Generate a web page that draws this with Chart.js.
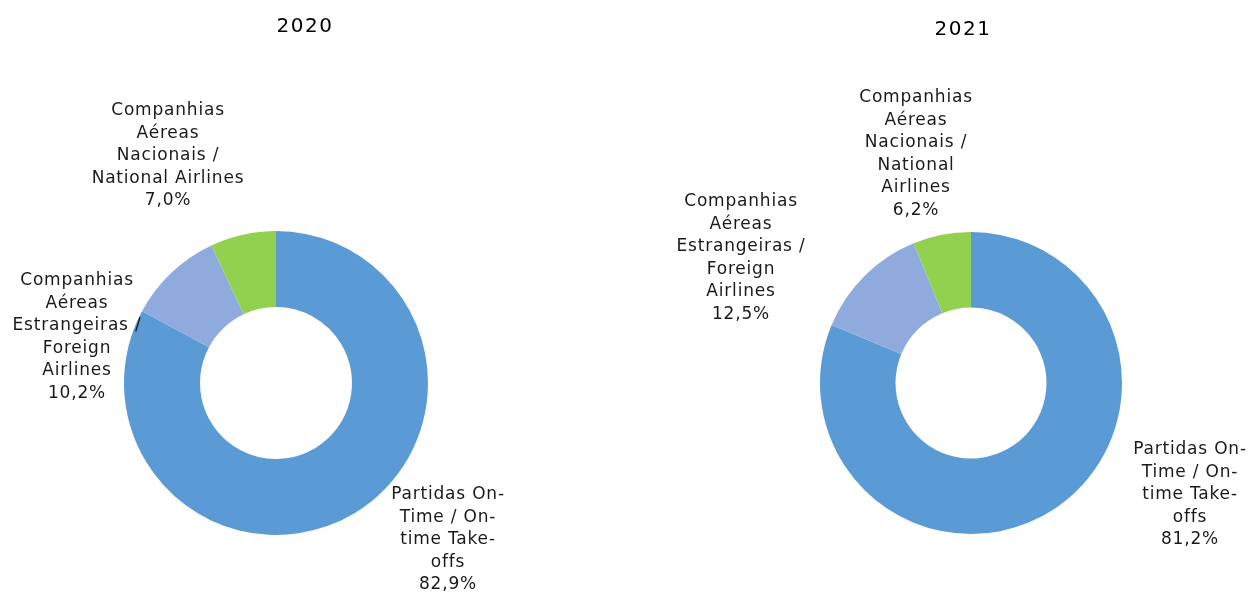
<!DOCTYPE html>
<html>
<head>
<meta charset="utf-8">
<script src="https://cdn.jsdelivr.net/npm/chart.js@4/dist/chart.umd.min.js"></script>
<style>
  html, body { margin: 0; padding: 0; background: #fff; }
  #wrap { position: relative; width: 1255px; height: 595px; }
  canvas { position: absolute; top: 0; }
</style>
</head>
<body>
<div id="wrap">
  <canvas id="c2020" width="627" height="595" style="left:0"></canvas>
  <canvas id="c2021" width="628" height="595" style="left:627px"></canvas>
</div>
<script>
// data
const categories = ['Partidas On-Time / On-time Take-offs', 'Companhias Aéreas Estrangeiras / Foreign Airlines', 'Companhias Aéreas Nacionais / National Airlines'];
const values2020 = [82.9, 10.2, 7.0];
const values2021 = [81.2, 12.5, 6.2];
const lines2020 = [
  ['Partidas On-', 'Time / On-', 'time Take-', 'offs'],
  ['Companhias', 'Aéreas', 'Estrangeiras /', 'Foreign', 'Airlines'],
  ['Companhias', 'Aéreas', 'Nacionais /', 'National Airlines']
];
const lines2021 = [
  ['Partidas On-', 'Time / On-', 'time Take-', 'offs'],
  ['Companhias', 'Aéreas', 'Estrangeiras /', 'Foreign', 'Airlines'],
  ['Companhias', 'Aéreas', 'Nacionais /', 'National', 'Airlines']
];
const colors = ['#5B9BD5', '#8FAADC', '#92D050'];

function fmt(v) {
  return v.toFixed(1).replace('.', ',') + '%';
}

// label block centres, relative to the doughnut centre
const labelOffsets2020 = [[172, 157], [-199, -46], [-108, -227]];
const labelOffsets2021 = [[219, 112], [-230, -125], [-55, -229]];

const labelPlugin = {
  id: 'outLabels',
  afterDraw(chart, args, opts) {
    const ctx = chart.ctx;
    const arc = chart.getDatasetMeta(0).data[0];
    const cx = arc.x, cy = arc.y;
    ctx.save();
    ctx.fillStyle = '#000';
    ctx.textAlign = 'center';
    ctx.textBaseline = 'middle';
    ctx.font = '20px "DejaVu Sans"';
    ctx.letterSpacing = '1.5px';
    ctx.fillText(opts.title, opts.titleX, opts.titleY);
    ctx.font = '17px "DejaVu Sans"';
    ctx.letterSpacing = '0.8px';
    ctx.fillStyle = '#1a1a1a';
    const lh = 22.5;
    opts.lines.forEach((ls, i) => {
      const all = ls.concat([fmt(opts.values[i])]);
      const x = cx + opts.offsets[i][0];
      const y0 = cy + opts.offsets[i][1] - (all.length - 1) * lh / 2;
      all.forEach((t, j) => ctx.fillText(t, x, y0 + j * lh));
    });
    ctx.restore();
  }
};

function makeChart(id, values, lines, offsets, title, titleX, titleY, padding) {
  return new Chart(document.getElementById(id), {
    type: 'doughnut',
    data: {
      labels: categories,
      datasets: [{
        data: values,
        backgroundColor: colors,
        borderWidth: 0
      }]
    },
    options: {
      responsive: false,
      animation: false,
      cutout: '50%',
      layout: { padding: padding },
      plugins: {
        legend: { display: false },
        tooltip: { enabled: false },
        outLabels: { values, lines, offsets, title, titleX, titleY }
      }
    },
    plugins: [labelPlugin]
  });
}

makeChart('c2020', values2020, lines2020, labelOffsets2020, '2020', 305, 27,
  { left: 124, right: 199, top: 231, bottom: 60 });
makeChart('c2021', values2021, lines2021, labelOffsets2021, '2021', 336, 30,
  { left: 193, right: 133, top: 232, bottom: 61 });
</script>
</body>
</html>
